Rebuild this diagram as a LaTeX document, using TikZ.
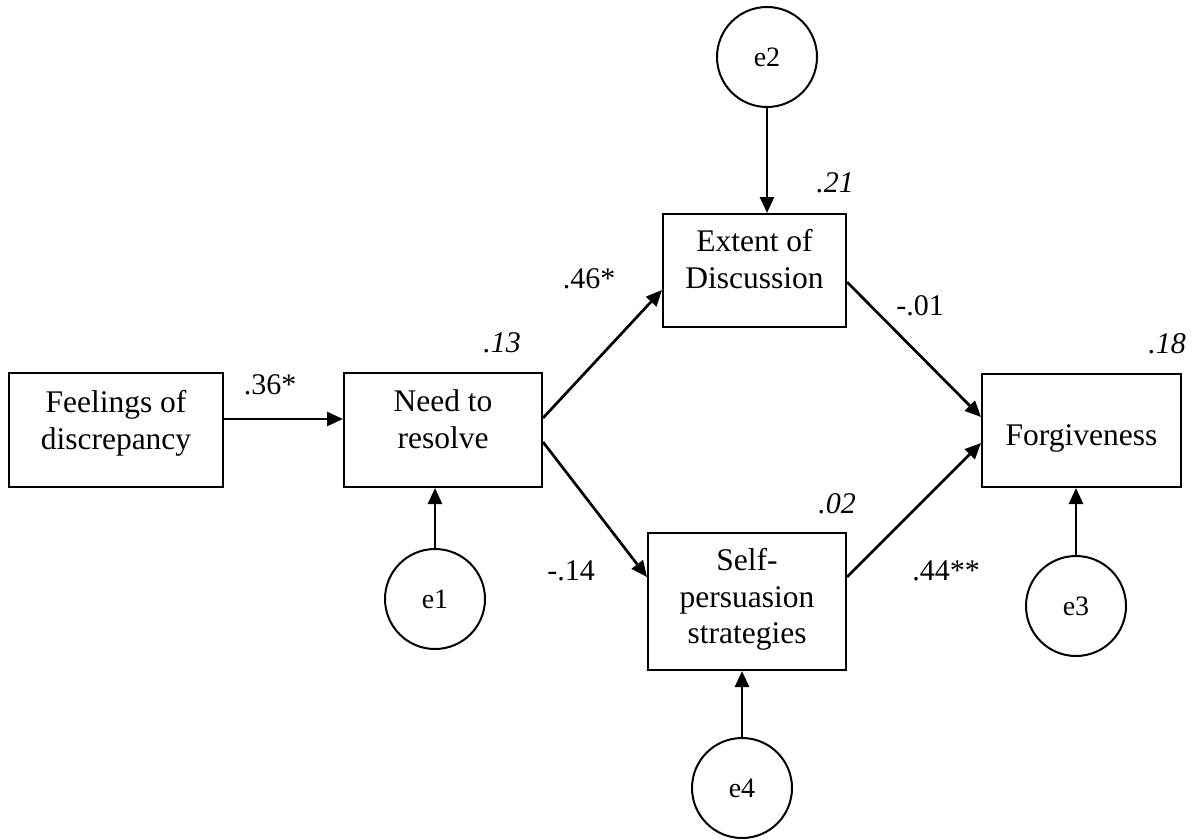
\documentclass[tikz,border=0pt]{standalone}
\usepackage{fontspec}
\setmainfont{Liberation Serif}
\usetikzlibrary{arrows.meta}
\begin{document}
\begin{tikzpicture}[x=1pt,y=-1pt,
  var/.style={draw,line width=2pt,inner sep=0pt},
  boxtext/.style={inner sep=0pt,align=center,font=\fontsize{31.5}{37.5}\selectfont},
  err/.style={draw,circle,line width=2pt,inner sep=0pt,minimum size=100pt,font=\fontsize{28}{32}\selectfont},
  coef/.style={inner sep=0pt,anchor=base,font=\fontsize{30}{36}\selectfont},
  rsq/.style={coef,font=\fontsize{30}{36}\selectfont\itshape},
  link/.style={line width=2.7pt,-{Triangle[length=16pt,width=14pt]}}]

% canvas
\path[fill=white,use as bounding box] (0,0) rectangle (1201,839);

% observed variables
\node[var,minimum width=214pt,minimum height=114pt] (feel) at (116,430) {};
\node[var,minimum width=198pt,minimum height=114pt] (need) at (443,430) {};
\node[var,minimum width=183pt,minimum height=113pt] (ext)  at (754.5,270.5) {};
\node[var,minimum width=198pt,minimum height=137pt] (self) at (747,601.5) {};
\node[var,minimum width=199pt,minimum height=113pt] (forg) at (1081.5,430.5) {};

% variable names, top-aligned inside their boxes
\node[boxtext,below=13.75pt] (feeltxt) at (feel.north) {\strut Feelings of\\discrepancy};
\node[boxtext,below=12.75pt] (needtxt) at (need.north) {\strut Need to\\resolve};
\node[boxtext,below=11.75pt] (exttxt)  at (ext.north)  {\strut Extent of\\Discussion};
\node[boxtext,below=12.75pt,font=\fontsize{31.5}{36.5}\selectfont] (selftxt) at (self.north) {\strut Self-\\persuasion\\strategies};
\node[boxtext,below=45.75pt] (forgtxt) at (forg.north) {\strut Forgiveness};

% error terms
\node[err] (e2) at (767,57)  {e2};
\node[err] (e1) at (435,599) {e1};
\node[err] (e3) at (1076,606) {e3};
\node[err] (e4) at (742,788) {e4};

% paths
\draw[link] ([yshift=11pt]feel.east) -- ([yshift=11pt]need.west);
\draw[link] ([yshift=12pt]need.east) -- ([yshift=-19.5pt]ext.west);
\draw[link] ([yshift=-12pt]need.east) -- ([yshift=24.5pt]self.west);
\draw[link] ([yshift=-11.5pt]ext.east) -- ([yshift=13.5pt]forg.west);
\draw[link] ([yshift=24.5pt]self.east) -- ([yshift=-12.5pt]forg.west);

% residual paths
\draw[link] (e2.south) -- (e2.south |- ext.north);
\draw[link] (e1.north) -- (e1.north |- need.south);
\draw[link] (e3.north) -- (e3.north |- forg.south);
\draw[link] (e4.north) -- (e4.north |- self.south);

% path coefficients
\node[coef] (c36) at (270,394) {.36*};
\node[coef] (c46) at (589,288) {.46*};
\node[coef] (c01) at (920,315) {-.01};
\node[coef] (c14) at (571,580) {-.14};
\node[coef] (c44) at (946,580) {.44**};

% explained variance
\node[rsq] (r13) at (502,352) {.13};
\node[rsq] (r21) at (835,192) {.21};
\node[rsq] (r18) at (1167,353) {.18};
\node[rsq] (r02) at (837,513) {.02};
\end{tikzpicture}
\end{document}
